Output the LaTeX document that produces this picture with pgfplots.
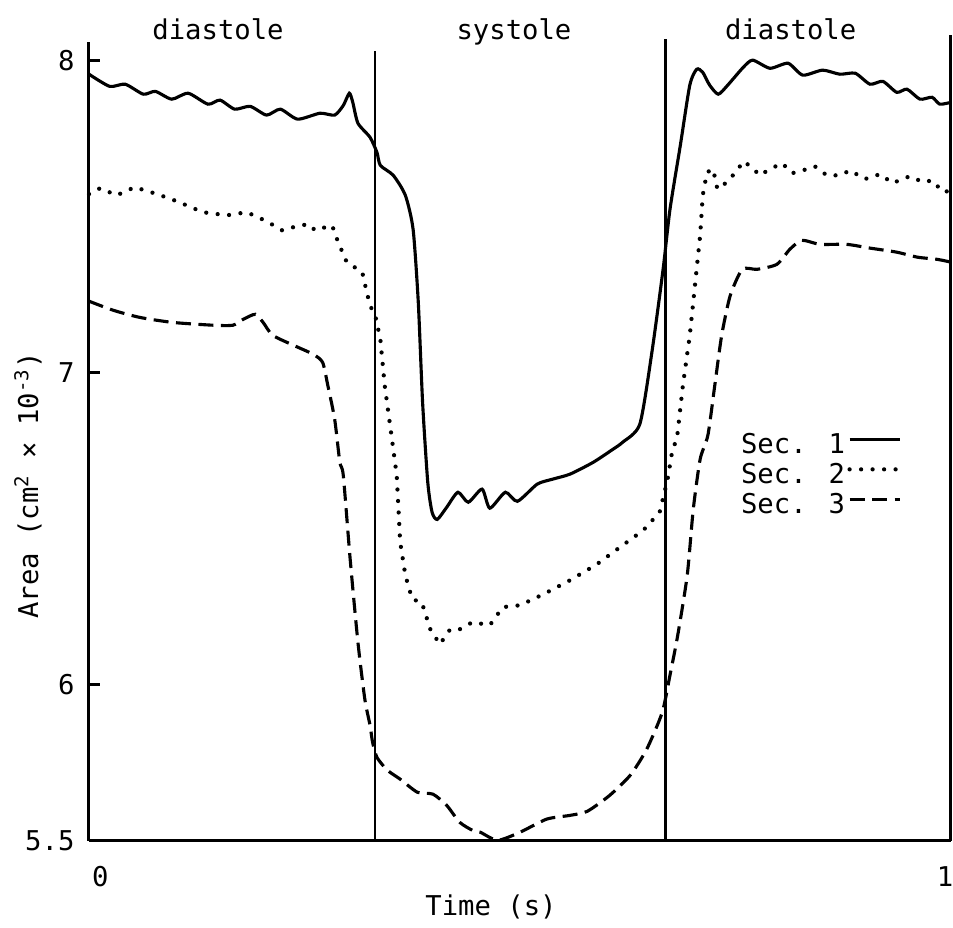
\documentclass[border=0pt]{standalone}
\usepackage{fontspec}
\setmainfont{DejaVu Sans Mono}
\usepackage{pgfplots}
\pgfplotsset{compat=1.18}
\begin{document}
\fontsize{10.9pt}{13pt}\selectfont
\begin{tikzpicture}
\begin{axis}[
  name=ax,
  scale only axis, width=344.8pt, height=319.7pt,
  xmin=0, xmax=1, ymin=5.5, ymax=8.06,
  axis x line*=bottom, axis y line*=left,
  axis line style={line width=1.2pt, -},
  xtick={0.013,0.993}, xticklabels={0,1},
  x tick style={draw=none},
  ytick={5.5,6,7,8}, yticklabels={5.5,6,7,8},
  y tick style={line width=1.2pt, black},
  tick align=inside, major tick length=4.4pt,
  xticklabel style={yshift=-6.4pt},
  yticklabel style={xshift=-2pt},
  xlabel={Time (s)},
  ylabel={Area (cm\textsuperscript{2} × 10\textsuperscript{-3})},
  xlabel style={at={(axis description cs:0.4664,0)}, anchor=north, yshift=-17.7pt},
  ylabel style={at={(axis description cs:-0.0708,0.445)}, anchor=center},
  clip=false,
  legend plot pos=right,
  legend cell align=left,
  legend style={draw=none, fill=none, at={(axis cs:0.753,6.816)}, anchor=north west,
    inner sep=0pt, row sep=0pt, column sep=0pt,
    nodes={inner sep=1pt, text height=8pt, text depth=2pt}},
  legend image code/.code={\draw[#1] (0pt,2.5pt) -- (20pt,2.5pt);},
  /pgf/number format/assume math mode=true,
]
% phase boundaries and right edge
\addplot[black, line width=1pt, forget plot] coordinates {(0.332,5.5) (0.332,8.03)};
\addplot[black, line width=1pt, forget plot] coordinates {(0.669,5.5) (0.669,8.07)};
\addplot[black, line width=1.2pt, forget plot] coordinates {(1,5.5) (1,8.08)};

% Sec. 1 (solid)
\addplot[black, line width=1.25pt, smooth, tension=0.4] coordinates {
(0.000,7.956) (0.024,7.917) (0.042,7.924) (0.063,7.892) (0.077,7.901) (0.096,7.876)
(0.115,7.895) (0.138,7.860) (0.152,7.873) (0.169,7.844) (0.187,7.853) (0.206,7.825)
(0.222,7.844) (0.242,7.812) (0.268,7.831) (0.285,7.825) (0.295,7.856) (0.302,7.895)
(0.306,7.866) (0.312,7.799) (0.326,7.754) (0.334,7.706) (0.338,7.664) (0.353,7.632)
(0.367,7.568) (0.376,7.459) (0.382,7.226) (0.387,6.905) (0.393,6.649) (0.398,6.553)
(0.404,6.530) (0.415,6.569) (0.428,6.617) (0.440,6.585) (0.456,6.627) (0.465,6.566)
(0.483,6.617) (0.497,6.588) (0.520,6.643) (0.538,6.659) (0.558,6.675) (0.585,6.713)
(0.608,6.755) (0.619,6.777) (0.639,6.835) (0.653,7.065) (0.666,7.331) (0.674,7.523)
(0.686,7.728) (0.697,7.921) (0.705,7.972) (0.712,7.962) (0.720,7.921) (0.730,7.892)
(0.741,7.921) (0.759,7.978) (0.770,8.001) (0.790,7.975) (0.811,7.991) (0.828,7.953)
(0.851,7.969) (0.871,7.956) (0.889,7.959) (0.906,7.924) (0.921,7.933) (0.937,7.898)
(0.949,7.908) (0.964,7.876) (0.978,7.882) (0.987,7.860) (1.000,7.866)
};
\addlegendentry{Sec. 1}

% Sec. 2 (dotted)
\addplot[black, line width=1.7pt, line cap=round, dash pattern=on 0pt off 4.6pt] coordinates {
(0.000,7.572) (0.013,7.591) (0.032,7.568) (0.053,7.594) (0.079,7.572) (0.102,7.549)
(0.132,7.514) (0.160,7.504) (0.183,7.514) (0.206,7.485) (0.224,7.456) (0.245,7.472)
(0.256,7.475) (0.262,7.456) (0.282,7.472) (0.289,7.418) (0.299,7.354) (0.317,7.322)
(0.323,7.248) (0.328,7.203) (0.332,7.184) (0.338,7.107) (0.343,6.960) (0.353,6.755)
(0.357,6.671) (0.361,6.457) (0.367,6.351) (0.375,6.274) (0.386,6.265) (0.396,6.178)
(0.407,6.130) (0.419,6.178) (0.430,6.178) (0.445,6.201) (0.465,6.191) (0.480,6.249)
(0.500,6.255) (0.527,6.290) (0.558,6.335) (0.589,6.386) (0.616,6.441) (0.643,6.495)
(0.662,6.553) (0.671,6.655) (0.677,6.755) (0.682,6.787) (0.689,6.960) (0.697,7.120)
(0.703,7.280) (0.709,7.440) (0.712,7.568) (0.717,7.642) (0.724,7.652) (0.729,7.588)
(0.740,7.610) (0.752,7.648) (0.759,7.677) (0.769,7.658) (0.778,7.632) (0.790,7.652)
(0.804,7.671) (0.816,7.639) (0.833,7.652) (0.842,7.661) (0.856,7.632) (0.871,7.632)
(0.883,7.648) (0.900,7.620) (0.918,7.636) (0.932,7.607) (0.952,7.629) (0.968,7.610)
(0.978,7.616) (0.991,7.578) (1.000,7.584)
};
\addlegendentry{Sec. 2}

% Sec. 3 (dashed)
\addplot[black, line width=1.25pt, dash pattern=on 6pt off 3pt, smooth, tension=0.4] coordinates {
(0.000,7.229) (0.028,7.200) (0.059,7.177) (0.097,7.161) (0.144,7.152) (0.167,7.152)
(0.179,7.171) (0.193,7.187) (0.202,7.161) (0.213,7.120) (0.237,7.088) (0.260,7.059)
(0.271,7.033) (0.277,6.960) (0.285,6.851) (0.291,6.713) (0.295,6.671) (0.303,6.402)
(0.312,6.136) (0.320,5.954) (0.326,5.871) (0.329,5.816) (0.334,5.768) (0.346,5.727)
(0.361,5.698) (0.381,5.656) (0.399,5.650) (0.415,5.614) (0.430,5.560) (0.445,5.534)
(0.454,5.528) (0.474,5.502) (0.500,5.528) (0.531,5.570) (0.558,5.582) (0.578,5.595)
(0.604,5.646) (0.628,5.711) (0.647,5.794) (0.665,5.912) (0.674,6.031) (0.683,6.159)
(0.694,6.351) (0.701,6.562) (0.709,6.723) (0.718,6.800) (0.726,6.960) (0.734,7.120)
(0.744,7.248) (0.758,7.331) (0.775,7.331) (0.798,7.347) (0.813,7.395) (0.827,7.424)
(0.848,7.411) (0.879,7.411) (0.906,7.399) (0.937,7.386) (0.961,7.370) (0.984,7.363)
(1.000,7.354)
};
\addlegendentry{Sec. 3}

\node[anchor=base] at (axis cs:0.1497,8.066) {diastole};
\node[anchor=base] at (axis cs:0.493,8.066) {systole};
\node[anchor=base] at (axis cs:0.814,8.066) {diastole};
\end{axis}
\pgfresetboundingbox
\path[use as bounding box] ([xshift=-35.6pt,yshift=-34.8pt]ax.south west) rectangle ([xshift=345.6pt,yshift=336.4pt]ax.south west);
\end{tikzpicture}
\end{document}
